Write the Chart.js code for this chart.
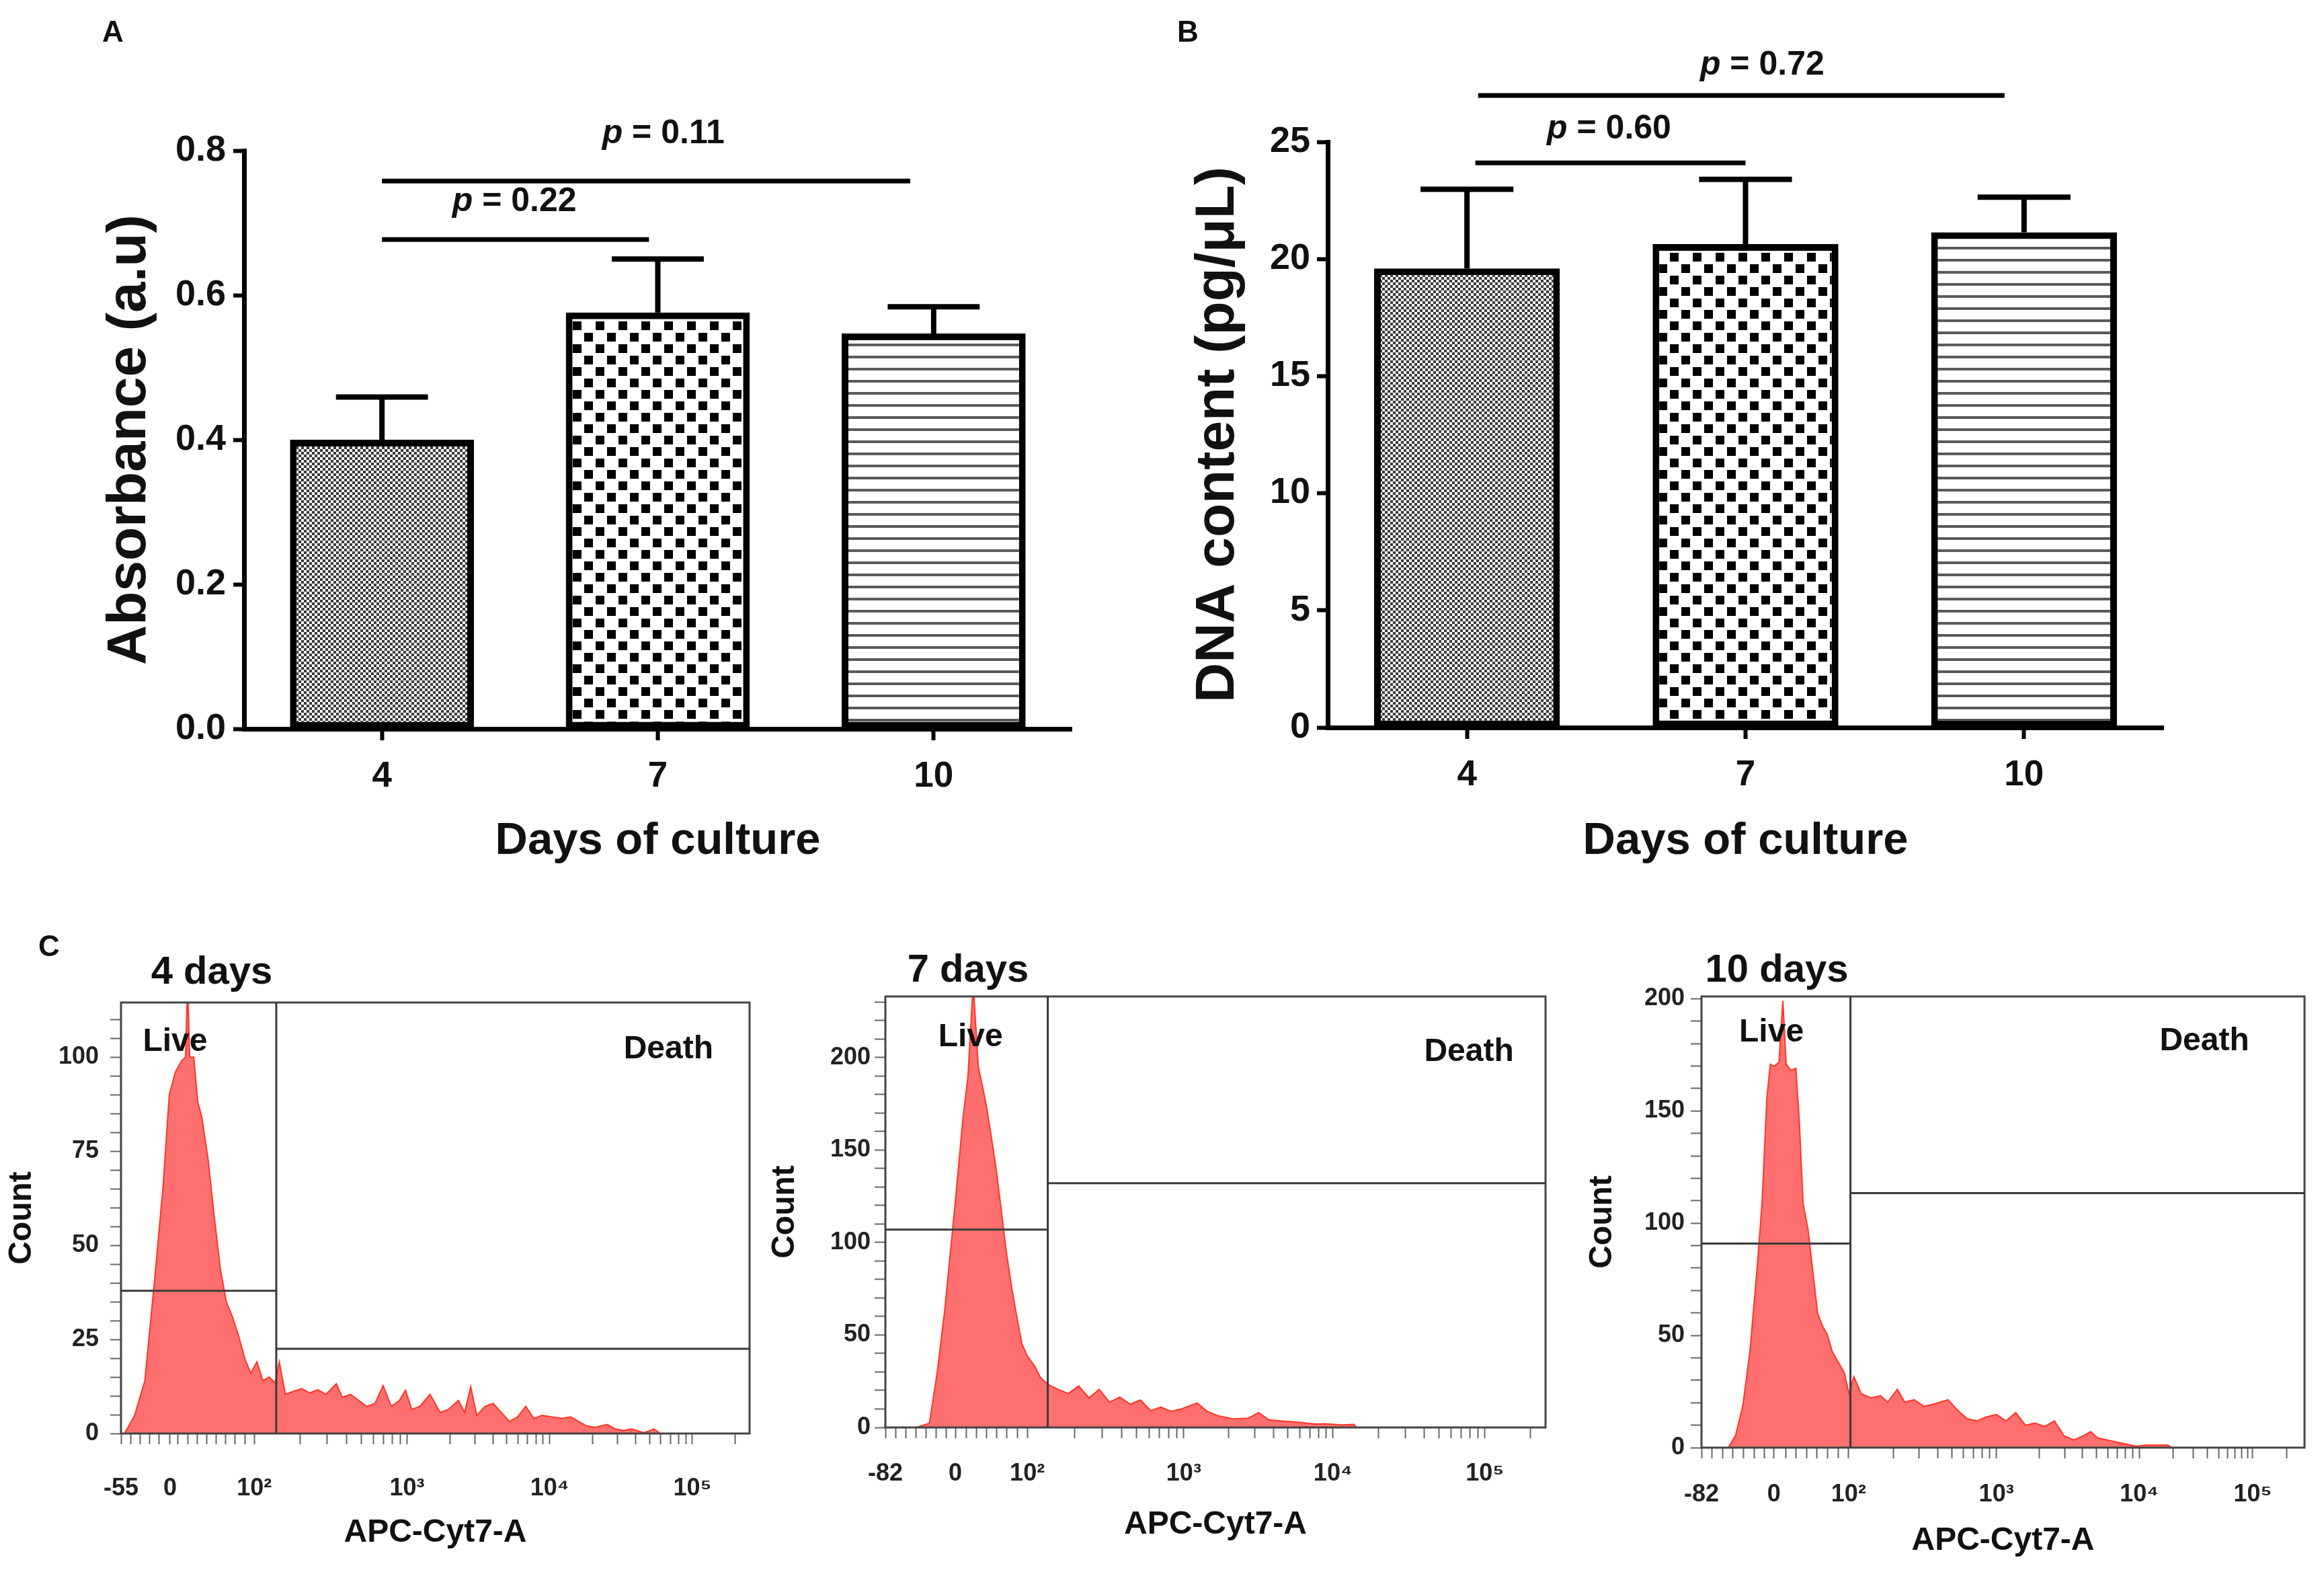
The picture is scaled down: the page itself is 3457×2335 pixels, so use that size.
<!DOCTYPE html>
<html>
<head>
<meta charset="utf-8">
<title>Viability, DNA content and flow cytometry</title>
<script src="https://cdn.jsdelivr.net/npm/chart.js@4.4.1/dist/chart.umd.min.js"></script>
<style>
  html, body { margin: 0; padding: 0; background: #fff; }
  body { width: 3457px; height: 2335px; position: relative; overflow: hidden; }
  canvas { position: absolute; }
</style>
</head>
<body>
<canvas id="chartA" width="1700" height="1330" style="left:0px;top:0px"></canvas>
<canvas id="chartB" width="1757" height="1330" style="left:1700px;top:0px"></canvas>
<canvas id="chartC1" width="1150" height="965" style="left:0px;top:1370px"></canvas>
<canvas id="chartC2" width="1200" height="965" style="left:1130px;top:1370px"></canvas>
<canvas id="chartC3" width="1127" height="965" style="left:2330px;top:1370px"></canvas>
<script>
// ---- data: panels A and B ----
const days = ['4', '7', '10'];
const absorbance = [0.40, 0.576, 0.547];
const absorbanceErr = [0.459, 0.650, 0.584];
const dnaContent = [19.6, 20.64, 21.14];
const dnaErr = [22.98, 23.4, 22.64];

// p-value brackets (category index from -> to)
const absPText = ['0.22', '0.11'];
const absPFrom = [0, 0];
const absPTo = [0.968, 1.915];
const dnaPText = ['0.60', '0.72'];
const dnaPFrom = [0.03, 0.04];
const dnaPTo = [1.0, 1.93];

// ---- data: panel C histograms (x = % of display width, y = count) ----
const c1X = [0.55, 2.17, 3.79, 5.41, 6.71, 7.68, 8.65, 9.62, 10.27, 10.60, 10.92, 11.57, 12.22, 12.86, 13.84,
  14.81, 15.78, 16.75, 17.72, 18.70, 19.67, 20.64, 21.61, 22.59, 23.56, 24.53, 25.18, 26.15, 27.45, 28.74,
  30.04, 31.34, 32.63, 34.25, 35.22, 36.52, 37.82, 39.11, 40.41, 41.70, 43.00, 44.30, 45.27, 46.24, 47.54,
  49.16, 50.78, 52.07, 53.69, 54.67, 55.64, 56.61, 57.91, 59.20, 60.50, 61.80, 63.09, 64.39, 65.68, 66.98,
  68.60, 70.22, 71.52, 72.81, 74.11, 75.41, 77.35, 78.65, 79.95, 81.24, 83.19, 84.81, 85.78];
const c1Y = [0, 4.8, 14, 42, 66, 90, 96, 99, 100, 120, 100, 100, 88, 84, 73,
  58, 44, 35, 31, 26, 20, 16, 19, 14, 15, 13.5, 19, 10.4, 11.2, 11.9,
  10.8, 11.6, 10.4, 13.2, 9.6, 10.4, 8.8, 7.2, 8, 12.7, 7.2, 8.8, 11.5, 6.4, 7.2,
  10.4, 5.6, 6.4, 8.8, 5.6, 12.4, 4.8, 7.2, 8, 5.6, 3.2, 4.4, 7.2, 4, 4.8,
  4.4, 4, 4.4, 3.2, 2, 1.6, 2.4, 1.2, 0.8, 1.2, 0.2, 1.2, 0];

const c2X = [4.73, 6.68, 7.85, 9.01, 10.57, 11.74, 12.52, 13.30, 14.08, 15.25, 16.03, 16.81, 17.59, 18.37, 19.15,
  19.93, 20.70, 21.48, 22.65, 23.43, 24.60, 26.16, 27.72, 29.28, 30.84, 32.39, 33.95, 35.51, 37.07, 38.63,
  40.19, 41.75, 43.30, 44.86, 47.20, 48.76, 50.32, 52.66, 55.00, 56.55, 58.11, 60.45, 62.79, 65.12, 66.68,
  69.02, 70.97, 71.36];
const c2Y = [0, 2.3, 29.7, 64, 121, 166.7, 190, 240, 195, 175, 157.6, 139, 116.5, 93.6, 75.4,
  59.4, 45, 38.8, 33, 27.4, 23.3, 20.6, 18.3, 22.4, 16, 20.6, 13.7, 16.4, 12.6, 14.8,
  9.1, 11, 8.7, 10, 13.2, 8.7, 6.4, 4.6, 5, 8, 4.1, 3.4, 2.7, 1.8, 2,
  1.4, 1.6, 0];

const c3X = [4.43, 5.64, 6.84, 8.04, 9.24, 10.04, 10.84, 11.41, 12.05, 12.85, 13.49, 14.05, 14.85, 15.65, 16.21,
  16.85, 17.66, 18.46, 19.26, 20.06, 20.86, 21.66, 22.46, 23.66, 24.47, 25.27, 26.47, 28.07, 29.67, 30.88,
  32.48, 33.68, 35.28, 36.89, 38.49, 40.89, 42.50, 44.10, 45.70, 47.30, 48.91, 50.51, 52.11, 53.71, 55.32,
  56.92, 58.52, 60.12, 61.73, 63.33, 64.53, 65.73, 67.34, 68.94, 70.54, 72.14, 73.75, 75.35, 77.35, 77.91];
const c3Y = [0, 5.3, 18.4, 42.9, 80.5, 108.7, 155.7, 170.8, 169.9, 171.7, 199, 170.8, 168, 169, 146,
  108.7, 97.4, 78.6, 59.8, 54.2, 50.4, 42.9, 39.1, 33.5, 24.1, 31.6, 24.1, 22.2, 23.1, 20.3,
  26, 20.3, 21.3, 18.4, 19.4, 21.3, 16.6, 12.8, 11.9, 13.7, 14.7, 11.9, 15.6, 10, 10.9,
  9.4, 11.9, 5.3, 3.4, 5.3, 7.1, 4.3, 3.4, 2.4, 1.5, 0.6, 1.1, 1.1, 1.1, 0];

// axis tick labels of the biexponential scale and where they sit (% of width)
const xTickLabels1 = ['-55', '0', '10²', '10³', '10⁴', '10⁵'];
const xTickLabels23 = ['-82', '0', '10²', '10³', '10⁴', '10⁵'];
const c1TickPos = [0, 7.8, 21.2, 45.5, 68.2, 90.9];
const c2TickPos = [0, 10.6, 21.5, 45.2, 67.8, 90.8];
const c3TickPos = [0, 12.0, 24.4, 48.9, 72.6, 91.4];

// gates: split position, live-gate height, death-gate height
const gateX = [24.7, 24.6, 24.7];
const liveGate = [37.9, 107, 90.9];
const deathGate = [22.5, 132, 113.4];
const countMax = [114.5, 233, 201];
const dayTitles = ['4 days', '7 days', '10 days'];

// ---- styling ----
const SANS = "'Liberation Sans', Arial, sans-serif";
Chart.defaults.font.family = SANS;
Chart.defaults.color = '#111';

function makePattern(kind) {
  const c = document.createElement('canvas');
  const g = c.getContext('2d');
  if (kind === 'fine') {
    c.width = c.height = 8;
    g.fillStyle = '#fff'; g.fillRect(0, 0, 8, 8);
    g.fillStyle = '#3a3a3a'; g.fillRect(0, 0, 4, 4); g.fillRect(4, 4, 4, 4);
  } else if (kind === 'coarse') {
    c.width = c.height = 34;
    g.fillStyle = '#fff'; g.fillRect(0, 0, 34, 34);
    g.fillStyle = '#000'; g.fillRect(2, 2, 13, 13); g.fillRect(19, 19, 13, 13);
  } else {
    c.width = 8; c.height = 18;
    g.fillStyle = '#fff'; g.fillRect(0, 0, 8, 18);
    g.fillStyle = '#5a5a5a'; g.fillRect(0, 7, 8, 4);
  }
  return g.createPattern(c, 'repeat');
}
const barFills = [makePattern('fine'), makePattern('coarse'), makePattern('stripes')];

const errorBars = {
  id: 'errorBars',
  afterDatasetsDraw(chart, args, opts) {
    const ctx = chart.ctx, y = chart.scales.y;
    ctx.save();
    ctx.strokeStyle = '#000';
    ctx.lineWidth = 8;
    chart.getDatasetMeta(0).data.forEach((bar, i) => {
      const top = y.getPixelForValue(opts.values[i]);
      const half = bar.width * 0.25;
      ctx.beginPath();
      ctx.moveTo(bar.x, bar.y);
      ctx.lineTo(bar.x, top);
      ctx.moveTo(bar.x - half, top);
      ctx.lineTo(bar.x + half, top);
      ctx.stroke();
    });
    ctx.restore();
  }
};

function drawPValue(ctx, val, cx, cy, size) {
  const f1 = 'italic bold ' + size + 'px ' + SANS;
  const f2 = 'bold ' + size + 'px ' + SANS;
  const rest = ' = ' + val;
  ctx.font = f1; const w1 = ctx.measureText('p').width;
  ctx.font = f2; const w2 = ctx.measureText(rest).width;
  const x0 = cx - (w1 + w2) / 2;
  ctx.textAlign = 'left';
  ctx.textBaseline = 'middle';
  ctx.font = f1; ctx.fillText('p', x0, cy);
  ctx.font = f2; ctx.fillText(rest, x0 + w1, cy);
}

const sigBars = {
  id: 'sigBars',
  afterDraw(chart, args, o) {
    const ctx = chart.ctx, x = chart.scales.x, y = chart.scales.y;
    ctx.save();
    ctx.strokeStyle = '#000';
    ctx.fillStyle = '#111';
    ctx.lineWidth = 7;
    o.text.forEach((t, i) => {
      const py = y.getPixelForValue(o.lineY[i]);
      ctx.beginPath();
      ctx.moveTo(x.getPixelForValue(o.from[i]), py);
      ctx.lineTo(x.getPixelForValue(o.to[i]), py);
      ctx.stroke();
      drawPValue(ctx, t, x.getPixelForValue(o.textX[i]), y.getPixelForValue(o.textY[i]), 50);
    });
    ctx.restore();
  }
};

const panelText = {
  id: 'panelText',
  afterDraw(chart, args, o) {
    const ctx = chart.ctx;
    ctx.save();
    ctx.fillStyle = '#111';
    ctx.textAlign = 'center';
    ctx.textBaseline = 'middle';
    o.items.forEach(it => {
      ctx.font = it.font;
      ctx.fillText(it.text, it.x, it.y);
    });
    ctx.restore();
  }
};

function barPanel(id, values, errs, yMax, yStep, decimals, yTitle, sig, lay) {
  return new Chart(document.getElementById(id), {
    type: 'bar',
    data: {
      labels: days,
      datasets: [{
        data: values,
        backgroundColor: barFills,
        borderColor: '#000',
        borderWidth: 10,
        borderSkipped: false,
        barPercentage: 1,
        categoryPercentage: 0.667
      }]
    },
    options: {
      responsive: false,
      animation: false,
      devicePixelRatio: 1,
      layout: { padding: { top: lay.padTop, right: lay.padRight, left: 0, bottom: 0 } },
      plugins: {
        legend: { display: false },
        tooltip: { enabled: false },
        errorBars: { values: errs },
        sigBars: sig,
        panelText: { items: lay.texts }
      },
      scales: {
        x: {
          grid: { offset: false, drawOnChartArea: false, tickLength: 17, tickWidth: 6, tickColor: '#000' },
          border: { color: '#000', width: 7 },
          ticks: { font: { size: 53, weight: 'bold' }, color: '#111', padding: 23 },
          title: { display: true, text: 'Days of culture', color: '#111',
                   font: { size: 67, weight: 'bold' }, padding: { top: 0, bottom: 38 } },
          afterFit(s) { s.height = lay.xAxisH; }
        },
        y: {
          min: 0, max: yMax,
          grid: { drawOnChartArea: false, tickLength: 16, tickWidth: 6, tickColor: '#000' },
          border: { color: '#000', width: 7 },
          ticks: { stepSize: yStep, callback: v => v.toFixed(decimals),
                   font: { size: 54, weight: 'bold' }, color: '#111', padding: lay.yTickPad },
          title: { display: true, text: yTitle, color: '#111',
                   font: { size: 82, weight: 'bold' }, padding: { top: lay.yTitlePad, bottom: 0 } },
          afterFit(s) { s.width = lay.yAxisW; }
        }
      }
    },
    plugins: [errorBars, sigBars, panelText]
  });
}

barPanel('chartA', absorbance, absorbanceErr, 0.8, 0.2, 1, 'Absorbance (a.u)',
  { text: absPText, from: absPFrom, to: absPTo, lineY: [0.677, 0.758], textX: [0.48, 1.02], textY: [0.729, 0.823] },
  { padTop: 224, padRight: 106, xAxisH: 246, yAxisW: 363, yTitlePad: 144, yTickPad: 11,
    texts: [{ text: 'A', x: 168, y: 50, font: 'bold 44px ' + SANS }] });

barPanel('chartB', dnaContent, dnaErr, 25, 5, 0, 'DNA content (pg/μL)',
  { text: dnaPText, from: dnaPFrom, to: dnaPTo, lineY: [24.1, 26.98], textX: [0.51, 1.06], textY: [25.55, 28.26] },
  { padTop: 211, padRight: 239, xAxisH: 248, yAxisW: 275, yTitlePad: 63, yTickPad: 10,
    texts: [{ text: 'B', x: 67, y: 50, font: 'bold 44px ' + SANS }] });

// ---- panel C ----
const flowFrame = {
  id: 'flowFrame',
  afterDatasetsDraw(chart, args, o) {
    const ctx = chart.ctx, a = chart.chartArea, x = chart.scales.x, y = chart.scales.y;
    ctx.save();
    ctx.strokeStyle = '#444';
    ctx.lineWidth = 3;
    ctx.strokeRect(a.left, a.top, a.right - a.left, a.bottom - a.top);
    const gx = x.getPixelForValue(o.gate);
    ctx.strokeStyle = '#3a3a3a';
    ctx.beginPath();
    ctx.moveTo(gx, a.top); ctx.lineTo(gx, a.bottom);
    const ly = y.getPixelForValue(o.live);
    ctx.moveTo(a.left, ly); ctx.lineTo(gx, ly);
    const dy = y.getPixelForValue(o.death);
    ctx.moveTo(gx, dy); ctx.lineTo(a.right, dy);
    ctx.stroke();
    ctx.fillStyle = '#111';
    ctx.textAlign = 'center';
    ctx.textBaseline = 'middle';
    ctx.font = 'bold 48px ' + SANS;
    ctx.fillText('Live', x.getPixelForValue(o.liveAt[0]), y.getPixelForValue(o.liveAt[1]));
    ctx.fillText('Death', x.getPixelForValue(o.deathAt[0]), y.getPixelForValue(o.deathAt[1]));
    ctx.restore();
  }
};

function flowPanel(id, k, xs, ys, tickPos, tickLab, yMajor, yMinor, lay) {
  return new Chart(document.getElementById(id), {
    type: 'line',
    data: {
      datasets: [{
        data: xs.map((v, i) => ({ x: v, y: ys[i] })),
        borderColor: '#ff3524',
        borderWidth: 2,
        backgroundColor: '#ff6f6f',
        fill: 'origin',
        pointRadius: 0,
        tension: 0
      }]
    },
    options: {
      responsive: false,
      animation: false,
      devicePixelRatio: 1,
      layout: { padding: { top: lay.padTop, right: lay.padRight, left: 0, bottom: 0 } },
      plugins: {
        legend: { display: false },
        tooltip: { enabled: false },
        flowFrame: { gate: gateX[k], live: liveGate[k], death: deathGate[k], liveAt: lay.liveAt, deathAt: lay.deathAt },
        panelText: { items: lay.texts }
      },
      scales: {
        x: {
          type: 'linear', min: 0, max: 100,
          afterBuildTicks(s) {
            const t = tickPos.map((p, i) => ({ value: p, lab: tickLab[i] }));
            const lin = (tickPos[2] - tickPos[0]) / 14;
            for (let v = tickPos[0] + lin; v < tickPos[2] - lin / 2; v += lin) {
              if (Math.abs(v - tickPos[1]) > lin / 2) t.push({ value: v, lab: '' });
            }
            for (let d = 2; d < tickPos.length; d++) {
              const p0 = tickPos[d];
              const p1 = d + 1 < tickPos.length ? tickPos[d + 1] : p0 + (p0 - tickPos[d - 1]);
              for (let m = 2; m <= 9; m++) {
                const v = p0 + (p1 - p0) * Math.log10(m);
                if (v <= 100) t.push({ value: v, lab: '' });
              }
            }
            t.sort((a, b) => a.value - b.value);
            s.ticks = t;
          },
          grid: { drawOnChartArea: false, tickLength: 16, tickWidth: 2, tickColor: '#666' },
          border: { display: false },
          ticks: { autoSkip: false, maxRotation: 0, callback: (v, i, t) => t[i].lab || '',
                   font: { size: 36, weight: 'bold' }, color: '#222', padding: lay.xTickPad },
          title: { display: true, text: 'APC-Cyt7-A', color: '#111', font: { size: 48, weight: 'bold' },
                   padding: { top: 0, bottom: lay.xTitlePad } },
          afterFit(s) { s.height = lay.xAxisH; }
        },
        y: {
          min: 0, max: countMax[k],
          afterBuildTicks(s) {
            const t = [];
            for (let v = 0; v <= countMax[k]; v += yMinor) t.push({ value: v });
            s.ticks = t;
          },
          grid: { drawOnChartArea: false, tickLength: 16, tickWidth: 2, tickColor: '#666' },
          border: { display: false },
          ticks: { autoSkip: false, callback: v => (v % yMajor === 0 ? String(v) : ''),
                   font: { size: 36, weight: 'bold' }, color: '#222', padding: lay.yTickPad },
          title: { display: true, text: 'Count', color: '#111', font: { size: 48, weight: 'bold' },
                   padding: { top: lay.countPad, bottom: 0 } },
          afterFit(s) { s.width = lay.yAxisW; }
        }
      }
    },
    plugins: [flowFrame, panelText]
  });
}

flowPanel('chartC1', 0, c1X, c1Y, c1TickPos, xTickLabels1, 25, 5,
  { padTop: 121, padRight: 35, xAxisH: 203, yAxisW: 180, countPad: 4, xTitlePad: 26, xTickPad: 44, yTickPad: 17,
    liveAt: [8.6, 104], deathAt: [87.1, 102],
    texts: [{ text: 'C', x: 73, y: 40, font: 'bold 44px ' + SANS },
            { text: dayTitles[0], x: 315, y: 77, font: 'bold 58px ' + SANS }] });

flowPanel('chartC2', 1, c2X, c2Y, c2TickPos, xTickLabels23, 50, 10,
  { padTop: 112, padRight: 31, xAxisH: 212, yAxisW: 187, countPad: 9, xTitlePad: 38, xTickPad: 31, yTickPad: 6,
    liveAt: [12.9, 211], deathAt: [88.4, 203],
    texts: [{ text: dayTitles[1], x: 310, y: 74, font: 'bold 58px ' + SANS }] });

flowPanel('chartC3', 2, c3X, c3Y, c3TickPos, xTickLabels23, 50, 10,
  { padTop: 112, padRight: 29, xAxisH: 182, yAxisW: 201, countPad: 25, xTitlePad: 14, xTickPad: 32, yTickPad: 9,
    liveAt: [11.6, 185], deathAt: [83.4, 181],
    texts: [{ text: dayTitles[2], x: 313, y: 74, font: 'bold 58px ' + SANS }] });
</script>
</body>
</html>
